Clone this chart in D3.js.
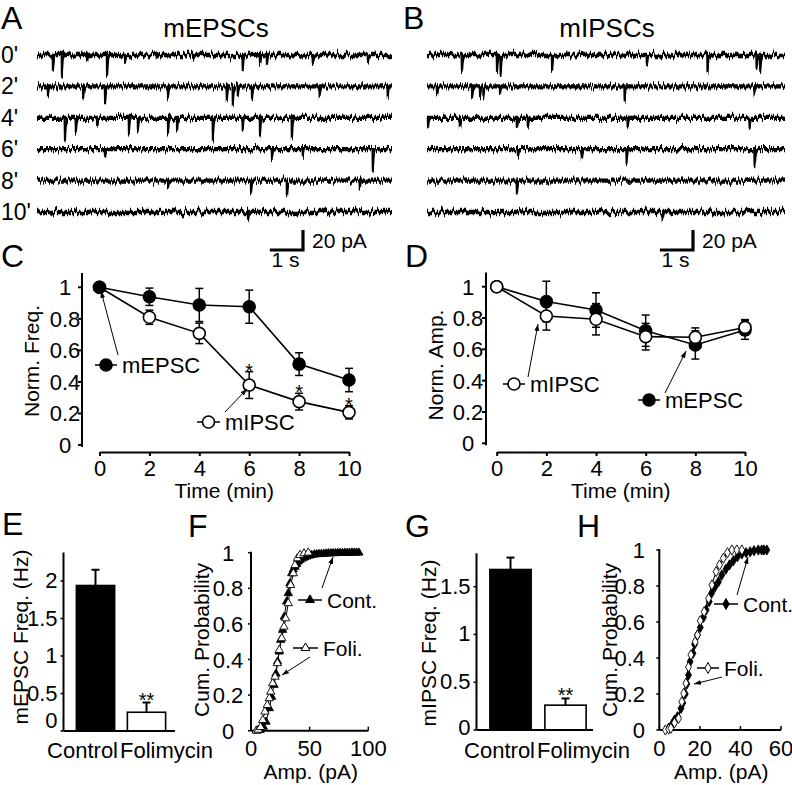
<!DOCTYPE html>
<html><head><meta charset="utf-8">
<script src="https://cdn.jsdelivr.net/npm/d3@7"></script>
<style>
body{margin:0;background:#fff}
text{font-family:"Liberation Sans",Arial,Helvetica,sans-serif;fill:#000}
</style></head>
<body><svg id="c" width="792" height="785"></svg>
<script>
// ---------------- DATA ----------------
const traceRows = ["0'","2'","4'","6'","8'","10'"];
// events: [time (s), amplitude (pA)]
const epscEvents = [
  [[0.48,15],[0.75,22],[1.51,7],[2.11,21],[2.65,7],[3.61,5],[4.70,5],[6.20,15],[6.72,10],[6.93,10],[8.31,8],[9.97,7]],
  [[0.33,10],[1.39,12],[2.05,16],[3.95,12],[5.72,15],[5.90,20],[6.05,10],[6.48,12],[8.52,10],[10.57,12]],
  [[0.84,23],[1.17,15],[1.81,8],[2.77,18],[3.04,13],[3.95,17],[4.22,13],[5.30,22],[6.20,12],[6.72,17],[7.68,23]],
  [[2.05,8],[7.08,10],[8.01,8],[10.12,22]],
  [[3.95,7],[6.45,13],[7.53,15],[9.73,10]],
  [[6.36,9]]
];
const ipscEvents = [
  [[1.05,17],[2.11,18],[2.22,20],[3.77,15],[6.63,10],[8.46,18],[9.94,15],[10.05,17]],
  [[0.30,8],[1.36,11],[1.60,10],[1.70,10],[2.20,8],[5.96,15],[9.88,8]],
  [[0.03,10],[0.99,9],[2.71,10],[3.04,10],[6.05,10],[9.73,8]],
  [[2.74,8],[4.67,10],[6.02,15],[9.88,18]],
  [[2.71,12]],
  [[7.11,7]]
];
const timePoints = [0,2,4,6,8,10];
const freqEPSC    = [1,0.94,0.888,0.877,0.513,0.412];
const freqEPSCErr = [0,0.055,0.105,0.105,0.072,0.074];
const freqIPSC    = [1,0.81,0.708,0.38,0.275,0.207];
const freqIPSCErr = [0,0.045,0.065,0.085,0.053,0.042];
const freqStars   = ["","","","*","*","*"];
const ampEPSC     = [1,0.905,0.851,0.719,0.628,0.724];
const ampEPSCErr  = [0,0.13,0.11,0.1,0.09,0.06];
const ampIPSC     = [1,0.813,0.792,0.681,0.677,0.74];
const ampIPSCErr  = [0,0.09,0.1,0.085,0.06,0.05];
const normTicks = [0,0.2,0.4,0.6,0.8,1];

const barCategories = ["Control","Folimycin"];
const epscFreqHz    = [1.94,0.25];
const epscFreqErr   = [0.21,0.13];
const ipscFreqHz    = [1.68,0.26];
const ipscFreqErr   = [0.125,0.07];
const barStars      = ["","**"];
const epscFreqTicks = [0,0.5,1,1.5,2];
const ipscFreqTicks = [0,0.5,1,1.5];

const fContAmp  = [5.5,7.7,10.5,12.8,15.6,17.6,19.6,21.3,22.7,24.1,25.3,27,28.4,30.4,31.8,33.2,34.7,36,37.5,39,40.3,42,44,45.5,47.5,49.5,51.7,54,56,58,60,62,64,66,68,70,72,74,76,78,80,82,84,86,88,90,92];
const fContProb = [0,0.004,0.022,0.05,0.126,0.19,0.257,0.32,0.388,0.444,0.51,0.566,0.64,0.725,0.772,0.828,0.884,0.905,0.92,0.937,0.95,0.96,0.968,0.973,0.978,0.983,0.987,0.99,0.991,0.992,0.993,0.994,0.995,0.996,0.996,0.997,0.997,0.998,0.998,0.998,0.999,0.999,0.999,1,1,1,1];
const fFoliAmp  = [4.5,6.2,8.2,10,11.9,13.9,15.6,16.8,18.5,20.5,22.5,24.1,26.2,28.1,29.6,31.8,33.8,36.1,37.5,39.5,41.8,45.2,48.8];
const fFoliProb = [0,0.005,0.02,0.06,0.107,0.144,0.182,0.219,0.266,0.303,0.379,0.453,0.519,0.584,0.631,0.716,0.818,0.884,0.93,0.968,0.987,0.996,1.0];
const fXTicks = [0,50,100];

const hContAmp  = [4.6,6.2,7.5,9.0,10.7,11.6,12.8,13.6,14.4,15.2,16.6,17.4,18.8,20.2,21.8,23.1,24.6,25.9,27.5,29.2,30.8,32.8,34.6,36.5,38.5,40.7,42.8,44.8,46.7,48.8,50.5,51.6,53];
const hContProb = [0.01,0.03,0.055,0.074,0.12,0.15,0.2,0.256,0.305,0.38,0.426,0.476,0.528,0.57,0.626,0.667,0.713,0.763,0.796,0.824,0.861,0.893,0.917,0.94,0.963,0.978,0.985,0.99,0.996,1,1,1,1];
const hFoliAmp  = [3,4.6,5.7,7.5,9.5,11.1,12,13.1,14.4,15.6,17.7,18.8,20.2,22.1,24.3,25.9,28,29.7,31.6,33.6,35.8,38.2,40.7];
const hFoliProb = [0,0.005,0.01,0.04,0.065,0.157,0.204,0.26,0.35,0.417,0.49,0.528,0.607,0.657,0.731,0.806,0.88,0.917,0.954,0.985,1,1,1];
const hXTicks = [0,20,40,60];
const probTicks = [0,0.2,0.4,0.6,0.8,1];

// ---------------- DRAWING ----------------
const svg = d3.select("#c");
const defs = svg.append("defs");
defs.append("marker").attr("id","ah").attr("viewBox","0 0 10 10")
  .attr("refX",10).attr("refY",5).attr("markerWidth",7).attr("markerHeight",7)
  .attr("orient","auto").append("path").attr("d","M0,1.5L10,5L0,8.5Z").attr("fill","#000");
const flt = defs.append("filter").attr("id","noise").attr("filterUnits","userSpaceOnUse")
  .attr("x",0).attr("y",30).attr("width",792).attr("height",210);
flt.append("feTurbulence").attr("type","fractalNoise").attr("baseFrequency","0.6 0.012")
  .attr("numOctaves",3).attr("seed",7).attr("result","t");
flt.append("feColorMatrix").attr("in","t").attr("type","matrix")
  .attr("values","0 0 0 0 0.5  0 1 0 0 0  0 0 0 0 0  0 0 0 0 1").attr("result","m");
flt.append("feDisplacementMap").attr("in","SourceGraphic").attr("in2","m")
  .attr("scale",11).attr("xChannelSelector","R").attr("yChannelSelector","G");

function text(x,y,s,size,anchor,g){
  return (g||svg).append("text").attr("x",x).attr("y",y).attr("font-size",size)
    .attr("text-anchor",anchor||"start").text(s);
}
function vtext(x,y,s,size){
  return svg.append("text").attr("transform",`translate(${x},${y}) rotate(-90)`)
    .attr("font-size",size).attr("text-anchor","middle").text(s);
}
function line(x1,y1,x2,y2,w,g){
  return (g||svg).append("line").attr("x1",x1).attr("y1",y1).attr("x2",x2).attr("y2",y2)
    .attr("stroke","#000").attr("stroke-width",w||1.5);
}
function arrow(x1,y1,x2,y2){
  line(x1,y1,x2,y2,1).attr("marker-end","url(#ah)");
}

// panel letters
[["A",1,29],["B",403,29],["C",1,267],["D",405,267],["E",2,535],["F",188,537],["G",405,537],["H",577,537]]
  .forEach(d=>text(d[1],d[2],d[0],32));

// ---- traces ----
function tracePanel(events, xr, yr, dur, title, titleX, labels){
  const x = d3.scaleLinear().domain([0,dur]).range(xr);
  const yRow = d3.scalePoint().domain(traceRows).range(yr);
  const amp = d3.scaleLinear().domain([0,20]).range([0,20]);
  text(titleX,37,title,26,"middle");
  const g = svg.append("g").attr("filter","url(#noise)");
  events.forEach((evs,i)=>{
    const y0 = yRow(traceRows[i]);
    const ln = d3.line().x(d=>x(d[0])).y(d=>y0+amp(d[1]));
    g.append("path").attr("d",ln([[0,0],[dur,0]]))
      .attr("fill","none").attr("stroke","#000").attr("stroke-width",4.3);
    g.selectAll(null).data(evs).enter().append("path")
      .attr("d",([t,a])=>ln([[t-0.01,0],[t,a],[t+0.03,a*0.3],[t+0.08,0]]))
      .attr("fill","none").attr("stroke","#000").attr("stroke-width",2).attr("stroke-linejoin","round");
    if(labels) text(1,y0+8,traceRows[i],23);
  });
  return {x,amp};
}
const tA = tracePanel(epscEvents,[37,392],[55,212],10.7,"mEPSCs",216,true);
const tB = tracePanel(ipscEvents,[427,785],[55,212],10.8,"mIPSCs",607,false);

function scaleBar(t, rightX, botY){
  const w = t.x(1)-t.x(0), h = t.amp(20)-t.amp(0);
  svg.append("path").attr("d",`M${rightX-w},${botY}H${rightX}V${botY-h}`)
    .attr("fill","none").attr("stroke","#000").attr("stroke-width",3.2);
  text(rightX+9,botY-2,"20 pA",21);
  text(rightX-w/2-1,botY+17,"1 s",21,"middle");
}
scaleBar(tA,303,250);
scaleBar(tB,693,250);

// ---- time course panels ----
function timePanel(cfg){
  const x = d3.scaleLinear().domain([0,10]).range(cfg.xr);
  const y = d3.scaleLinear().domain([0,1]).range(cfg.yr);
  const g = svg.append("g");
  line(cfg.axX,y(-0.012),cfg.axX,y(1.09),2,g);
  normTicks.forEach(v=>{
    line(cfg.axX-4,y(v),cfg.axX,y(v),2,g);
    text(cfg.labX,y(v)+8,String(v),22,"middle",g);
  });
  const xa = g.append("g").attr("transform",`translate(0,${cfg.axY})`)
    .call(d3.axisBottom(x).tickValues(timePoints).tickSize(4).tickSizeOuter(0).tickPadding(4));
  xa.select(".domain").attr("stroke-width",2);
  xa.selectAll(".tick line").attr("stroke-width",2);
  xa.selectAll("text").attr("font-size",22).attr("font-family",null);
  text((cfg.xr[0]+cfg.xr[1])/2,cfg.axY+46,"Time (min)",21,"middle");
  vtext(cfg.ylabX,cfg.ylabY,cfg.ylab,21);

  const lineGen = d3.line().x((d,i)=>x(timePoints[i])).y(d=>y(d));
  const series = cfg.series;
  series.forEach(s=>{
    g.append("path").attr("d",lineGen(s.v)).attr("fill","none").attr("stroke","#000").attr("stroke-width",1.6);
  });
  series.forEach(s=>{
    s.v.forEach((v,i)=>{
      if(!s.e[i]) return;
      const xx=x(timePoints[i]);
      line(xx,y(v-s.e[i]),xx,y(v+s.e[i]),1.5,g);
      line(xx-4,y(v+s.e[i]),xx+4,y(v+s.e[i]),1.5,g);
      line(xx-4,y(v-s.e[i]),xx+4,y(v-s.e[i]),1.5,g);
    });
  });
  series.forEach(s=>{
    g.selectAll(null).data(s.v).enter().append("circle")
      .attr("cx",(d,i)=>x(timePoints[i])).attr("cy",d=>y(d)).attr("r",6)
      .attr("fill",s.filled?"#000":"#fff").attr("stroke","#000").attr("stroke-width",1.6);
    if(s.stars) s.v.forEach((v,i)=>{ if(s.stars[i]) text(x(timePoints[i]),y(v+s.e[i])+6,s.stars[i],20,"middle",g); });
  });
  return {x,y};
}
function legendItem(x1,x2,cy,label,marker,filled,size){
  line(x1,cy,x2,cy,1.5);
  const cx=(x1+x2)/2;
  if(marker==="circle"){
    svg.append("circle").attr("cx",cx).attr("cy",cy).attr("r",6).attr("fill",filled?"#000":"#fff").attr("stroke","#000").attr("stroke-width",1.6);
  } else {
    svg.append("path").attr("transform",`translate(${cx},${cy})`)
      .attr("d",d3.symbol().type(marker==="triangle"?d3.symbolTriangle:d3.symbolDiamond).size(34)())
      .attr("fill",filled?"#000":"#fff").attr("stroke","#000").attr("stroke-width",1);
  }
  text(x2+5,cy+8,label,size||22);
}

timePanel({xr:[99.5,349],yr:[445,287.3],axX:82,axY:452,labX:65,ylab:"Norm. Freq.",ylabX:39,ylabY:361,
  series:[{v:freqIPSC,e:freqIPSCErr,filled:false,stars:freqStars},{v:freqEPSC,e:freqEPSCErr,filled:true}]});
legendItem(95,117,365,"mEPSC","circle",true);
arrow(118,355,101,291);
legendItem(197,220,422,"mIPSC","circle",false);
arrow(225,412,247,389);

timePanel({xr:[496.7,745],yr:[443.3,286.7],axX:486,axY:452,labX:468,ylab:"Norm. Amp.",ylabX:443,ylabY:365,
  series:[{v:ampEPSC,e:ampEPSCErr,filled:true},{v:ampIPSC,e:ampIPSCErr,filled:false}]});
legendItem(503,525,384,"mIPSC","circle",false);
arrow(528,377,538,324);
legendItem(638,660,400,"mEPSC","circle",true);
arrow(665,393,686,351);

// ---- bar panels ----
function barPanel(cfg){
  const x = d3.scaleBand().domain(barCategories).range(cfg.xr).paddingInner(0.25).paddingOuter(0.125);
  const y = d3.scaleLinear().domain([0,cfg.ticks[cfg.ticks.length-1]]).range(cfg.yr);
  const g = svg.append("g");
  g.selectAll(null).data(cfg.vals).enter().append("rect")
    .attr("x",(d,i)=>x(barCategories[i])).attr("width",x.bandwidth())
    .attr("y",d=>y(d)).attr("height",d=>y(0)-y(d))
    .attr("fill",(d,i)=>i===0?"#000":"#fff").attr("stroke","#000").attr("stroke-width",1.6);
  cfg.vals.forEach((v,i)=>{
    const cx = x(barCategories[i])+x.bandwidth()/2;
    const top = y(v+cfg.errs[i]);
    line(cx,y(v),cx,top,2,g);
    line(cx-4,top,cx+4,top,2,g);
    if(barStars[i]) text(cx,top+4,barStars[i],20,"middle",g);
  });
  line(cfg.axX,y(cfg.top),cfg.axX,y(0),2,g);
  line(cfg.axX,y(0),cfg.axEnd,y(0),2,g);
  cfg.ticks.forEach(v=>{
    line(cfg.axX-3,y(v),cfg.axX,y(v),1.5,g);
    text(cfg.axX-6,y(v)+(v===0?cfg.zeroDy:7),String(v),22,"end",g);
  });
  const mid = (x(barCategories[0])+x.bandwidth()+x(barCategories[1]))/2;
  text(mid-3,758,barCategories[0],22,"end",g);
  text(mid-1,758,barCategories[1],22,"start",g);
  vtext(cfg.ylabX,cfg.ylabY,cfg.ylab,21);
}
barPanel({xr:[70,172],yr:[731,581],ticks:epscFreqTicks,vals:epscFreqHz,errs:epscFreqErr,top:2.38,axX:63.5,axEnd:175,zeroDy:-3,
  ylab:"mEPSC Freq. (Hz)",ylabX:28,ylabY:637});
barPanel({xr:[483,593],yr:[730,586.7],ticks:ipscFreqTicks,vals:ipscFreqHz,errs:ipscFreqErr,top:1.85,axX:476.5,axEnd:593,zeroDy:5,
  ylab:"mIPSC Freq. (Hz)",ylabX:436,ylabY:643});

// ---- cumulative panels ----
function cumPanel(cfg){
  const x = d3.scaleLinear().domain([0,cfg.xTicks[cfg.xTicks.length-1]]).range(cfg.xr);
  const y = d3.scaleLinear().domain([0,1]).range(cfg.yr);
  const g = svg.append("g");
  line(cfg.xr[0],y(1.005),cfg.xr[0],y(0),2,g);
  line(cfg.xr[0],y(0),cfg.xr[1],y(0),2,g);
  probTicks.forEach(v=>{
    line(cfg.xr[0]-3,y(v),cfg.xr[0],y(v),1.5,g);
    text(cfg.yLabX,y(v)+8,String(v),22,cfg.yLabAnchor,g);
  });
  cfg.xTicks.forEach(v=>{
    line(x(v),y(0),x(v),y(0)-4,1.5,g);
    text(x(v),756,String(v),22,"middle",g);
  });
  text((cfg.xr[0]+cfg.xr[1])/2+1,779,"Amp. (pA)",21,"middle");
  vtext(cfg.ylabX,640,"Cum. Probability",21);
  const sym = d3.symbol().type(cfg.shape).size(30);
  const ln = d3.line().x(d=>x(d[0])).y(d=>y(d[1]));
  cfg.series.forEach(s=>{
    const pts = s.a.map((a,i)=>[a,s.p[i]]);
    g.append("path").attr("d",ln(pts)).attr("fill","none").attr("stroke","#000").attr("stroke-width",1);
  });
  cfg.series.forEach(s=>{
    g.selectAll(null).data(s.a).enter().append("path")
      .attr("transform",(d,i)=>`translate(${x(d)},${y(s.p[i])})`)
      .attr("d",sym()).attr("fill",s.filled?"#000":"#fff").attr("stroke","#000").attr("stroke-width",0.9);
  });
}
cumPanel({xr:[251,368.3],yr:[730.7,552.7],xTicks:fXTicks,shape:d3.symbolTriangle,yLabX:228,yLabAnchor:"middle",ylabX:209,
  series:[{a:fContAmp,p:fContProb,filled:true},{a:fFoliAmp,p:fFoliProb,filled:false}]});
legendItem(298,322,600,"Cont.","triangle",true,21);
arrow(322,588,333,557);
legendItem(293,318,648,"Foli.","triangle",false,21);
arrow(310,657,282,675);

cumPanel({xr:[659.3,781],yr:[730,550],xTicks:hXTicks,shape:d3.symbolDiamond,yLabX:645,yLabAnchor:"end",ylabX:617,
  series:[{a:hContAmp,p:hContProb,filled:true},{a:hFoliAmp,p:hFoliProb,filled:false}]});
legendItem(714,738,604,"Cont.","diamond",true,21);
arrow(737,595,748,557);
legendItem(697,719,668,"Foli.","diamond",false,21);
arrow(722,677,694,684);
</script></body></html>
